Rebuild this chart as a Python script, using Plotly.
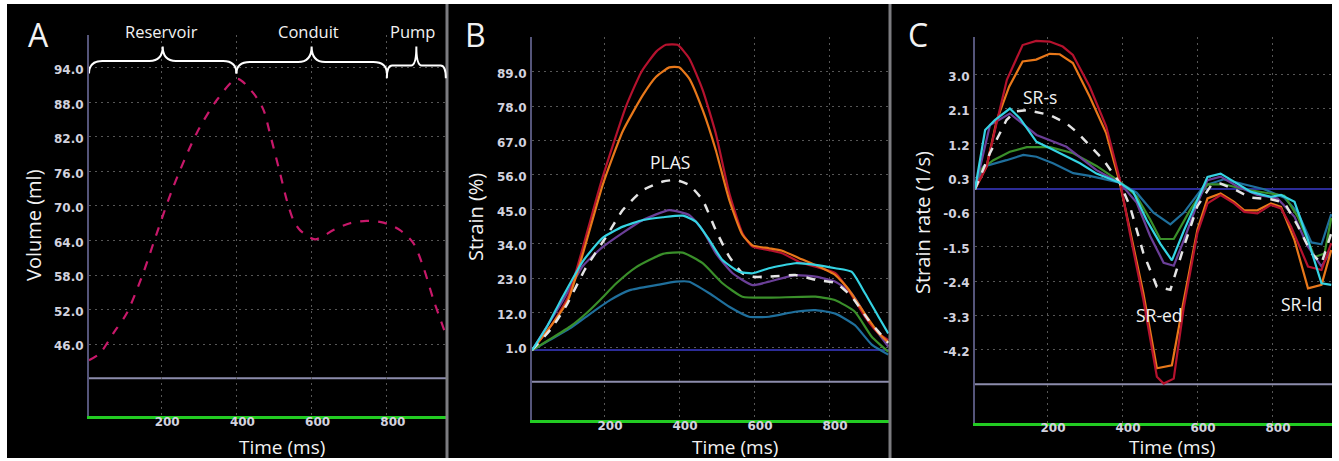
import plotly.graph_objects as go

W, H = 1339, 461

# ---------------- Panel A: LA volume ----------------
vol_time = [8, 37, 73, 108, 152, 188, 232, 294, 348, 402, 445, 472, 489, 516, 534, 551, 569,
            609, 658, 702, 746, 791, 835, 871, 897, 924, 959]
vol_ml = [43.2, 44.4, 47.9, 51.3, 58.3, 65.2, 73.3, 82.6, 88.4, 92.1, 89.6, 86.7, 82.6, 75.7,
          71.0, 67.6, 65.8, 64.2, 65.8, 67.0, 67.4, 67.1, 65.8, 63.5, 59.4, 53.7, 47.3]
vol_ticks = [46, 52, 58, 64, 70, 76, 82, 88, 94]
vol_tick_text = ["46.0", "52.0", "58.0", "64.0", "70.0", "76.0", "82.0", "88.0", "94.0"]
phase_names = ["Reservoir", "Conduit", "Pump"]
phase_start = [8, 400, 800]
phase_end = [400, 800, 957]
brace_tip = [93.0, 93.0, 92.2]
brace_body = [95.2, 95.0, 94.4]
brace_peak = [97.7, 97.7, 97.7]

# ---------------- Panel B: strain ----------------
b_red_t = [8, 60, 104, 144, 193, 259, 300, 340, 365, 396, 427, 463, 498, 534, 569, 596, 640,
           675, 719, 764, 817, 852, 896, 932, 958]
b_red = [0, 8, 17, 33, 54, 78, 89, 95.5, 97.6, 97.6, 93.3, 83.2, 69.3, 50.2, 37.4, 33.1, 32.0,
         31.0, 28.3, 26.7, 24.6, 19.2, 10.7, 5.4, 3.2]
b_orange_t = [8, 60, 104, 144, 197, 250, 304, 339, 374, 400, 427, 463, 498, 534, 569, 596, 640,
              675, 719, 764, 817, 852, 896, 932, 958]
b_orange = [0, 8, 16, 31, 53, 70, 81.6, 87.4, 90.4, 90.4, 86.9, 76.8, 64, 48, 36.9, 33.5, 32.6,
            31.8, 29.5, 27.2, 24.0, 19.5, 11.5, 5.5, 2.5]
b_plas_t = [8, 60, 101, 150, 206, 250, 304, 357, 392, 427, 463, 498, 534, 569, 596, 640, 710,
            764, 817, 860, 905, 958]
b_plas = [0, 7, 14.6, 26, 36.3, 44.8, 51.2, 53.9, 54.4, 52.8, 48, 38.4, 29.9, 24.6, 23.5, 23.5,
          24.0, 22.5, 21.5, 17.2, 9.7, 2.3]
b_purple_t = [8, 50, 91, 144, 197, 250, 304, 374, 427, 463, 498, 543, 596, 640, 710, 764, 817,
              860, 905, 958]
b_purple = [0, 8, 16, 27, 33, 37.5, 41.6, 44.8, 43.2, 38.4, 31, 24.6, 20.8, 21.9, 24, 23.5, 21.9,
            18.2, 9.7, 1.2]
b_cyan_t = [8, 50, 85, 144, 197, 250, 304, 357, 410, 445, 481, 516, 560, 596, 640, 710, 764, 817,
            860, 896, 932, 958]
b_cyan = [0, 8, 16, 28.5, 36, 39.5, 41.6, 42.5, 43, 41.1, 35.2, 28.8, 25.1, 24.6, 26.2, 27.8,
          27.3, 26.2, 25.1, 18.2, 10.7, 5.4]
b_green_t = [8, 56, 109, 150, 189, 233, 285, 357, 410, 463, 516, 569, 640, 764, 817, 869, 914, 958]
b_green = [0, 3.5, 7.5, 11.5, 16, 21.4, 26.5, 30.8, 31.2, 27.8, 21.4, 17.1, 16.8, 17.1, 16.0,
           12.3, 4.3, -0.5]
b_teal_t = [8, 56, 109, 150, 216, 269, 339, 392, 427, 481, 534, 587, 640, 710, 764, 817, 869,
            914, 958]
b_teal = [0, 3.3, 7, 10.5, 16, 19.2, 20.8, 21.9, 21.9, 18.2, 13.9, 10.7, 10.7, 12.3, 12.8, 11.7,
          8, 1.8, -1.4]
strain_ticks = [1, 12, 23, 34, 45, 56, 67, 78, 89]
strain_tick_text = ["1.0", "12.0", "23.0", "34.0", "45.0", "56.0", "67.0", "78.0", "89.0"]

# ---------------- Panel C: strain rate ----------------
c_red_t = [8, 39, 66, 93, 135, 171, 207, 242, 269, 314, 358, 394, 421, 457, 493, 511, 538, 565,
           601, 628, 663, 699, 726, 761, 797, 824, 851, 896, 932, 958]
c_red = [0, 0.6, 1.75, 2.86, 3.77, 3.88, 3.86, 3.73, 3.51, 2.68, 1.64, 0.26, -1.15, -2.89, -4.9,
         -5.08, -4.95, -3.07, -1.15, -0.37, -0.15, -0.37, -0.59, -0.63, -0.41, -0.5, -0.98,
         -2.02, -2.11, -1.41]
c_orange_t = [8, 39, 66, 99, 135, 171, 207, 234, 269, 314, 358, 394, 421, 457, 493, 533, 565,
              601, 628, 663, 699, 726, 761, 797, 824, 860, 896, 932, 958]
c_orange = [0, 0.6, 1.8, 2.68, 3.34, 3.39, 3.54, 3.53, 3.3, 2.42, 1.46, 0.17, -1.06, -2.72, -4.68,
            -4.6, -2.89, -1.06, -0.24, -0.11, -0.33, -0.55, -0.55, -0.37, -0.46, -1.33, -2.59,
            -2.5, -1.59]
c_srs_t = [8, 48, 92, 115, 146, 208, 252, 279, 350, 394, 421, 457, 493, 529, 565, 601, 637, 663,
           699, 744, 797, 833, 869, 905, 932, 958]
c_srs = [0, 0.95, 1.81, 2.03, 2.07, 1.94, 1.72, 1.5, 0.77, 0.17, -0.44, -1.67, -2.55, -2.63, -1.5,
         -0.44, 0.09, 0.15, 0, -0.22, -0.26, -0.35, -0.96, -1.67, -1.94, -1.15]
c_cyan_t = [8, 35, 61, 101, 128, 172, 208, 252, 288, 332, 394, 430, 466, 502, 533, 565, 601, 628,
            663, 699, 744, 797, 824, 860, 896, 932, 958]
c_cyan = [0, 1.55, 1.81, 2.11, 1.85, 1.24, 1.07, 0.85, 0.68, 0.41, 0.17, -0.07, -0.81, -1.42,
          -1.86, -1.08, -0.29, 0.32, 0.41, 0.19, -0.07, -0.2, -0.15, -0.33, -1.33, -2.46, -2.5]
c_purple_t = [8, 48, 101, 172, 252, 332, 394, 439, 475, 511, 538, 565, 601, 628, 663, 708, 761,
              815, 860, 896, 932, 958]
c_purple = [0, 1.68, 1.98, 1.42, 1.11, 0.5, 0.17, -0.35, -1.22, -1.92, -2.0, -1.33, -0.37, 0.24,
            0.33, 0.07, -0.15, -0.24, -0.72, -1.5, -2.02, -1.59]
c_green_t = [8, 21, 57, 101, 146, 208, 270, 332, 394, 439, 475, 502, 538, 583, 628, 672, 726,
             779, 833, 869, 914, 940, 958]
c_green = [0, 0.5, 0.76, 0.98, 1.1, 1.1, 0.94, 0.61, 0.2, -0.18, -0.79, -1.3, -1.3, -0.52, 0.13,
           0.13, 0, -0.09, -0.17, -0.72, -1.77, -1.68, -0.75]
c_teal_t = [8, 30, 92, 137, 172, 216, 270, 314, 394, 439, 484, 529, 565, 619, 672, 726, 779, 833,
            869, 905, 932, 958]
c_teal = [0, 0.59, 0.76, 0.9, 0.85, 0.68, 0.42, 0.35, 0.17, -0.09, -0.61, -0.92, -0.61, 0.09,
          0.26, 0.13, 0.0, -0.22, -0.61, -1.39, -1.44, -0.65]
rate_ticks = [-4.2, -3.3, -2.4, -1.5, -0.6, 0.3, 1.2, 2.1, 3.0]
rate_tick_text = ["-4.2", "-3.3", "-2.4", "-1.5", "-0.6", "0.3", "1.2", "2.1", "3.0"]

time_ticks = [200, 400, 600, 800]
time_tick_text = ["200", "400", "600", "800"]

# reference lines (lavender) per panel
lav_level = [40.05, -10.1, -5.1]

# ---------------- styling ----------------
COL = dict(red="#b5122e", orange="#e8781a", white="#e4e4e4", purple="#6b3f98",
           cyan="#35d3e3", green="#3a8f2a", teal="#1f6f9c", magenta="#c8186a")
TICKFONT = dict(family="DejaVu Sans", size=12, color="#d2d2de", weight="bold")
TXT = "Open Sans"
GRID = dict(showgrid=True, gridcolor="#565656", griddash="2px,4px", gridwidth=1)


def px(x):
    return x / W


def py(y):
    return 1 - y / H


fig = go.Figure()


def add_line(x, y, color, ax, dash="solid", width=2.2, shape="linear", smoothing=1.0):
    fig.add_trace(go.Scatter(x=x, y=y, mode="lines", xaxis="x" + ax, yaxis="y" + ax,
                             line=dict(color=color, width=width, dash=dash, shape=shape,
                                       smoothing=smoothing),
                             hoverinfo="skip", showlegend=False))


# Panel A
add_line(vol_time, vol_ml, COL["magenta"], "", dash="dash", width=2.2, shape="spline", smoothing=0.8)

# Panel B
for t, v, c in [(b_teal_t, b_teal, "teal"), (b_green_t, b_green, "green"),
                (b_purple_t, b_purple, "purple"), (b_red_t, b_red, "red"),
                (b_orange_t, b_orange, "orange")]:
    add_line(t, v, COL[c], "2", shape="spline", smoothing=0.5)
add_line(b_plas_t, b_plas, COL["white"], "2", dash="dash", width=2.5, shape="spline", smoothing=0.5)
add_line(b_cyan_t, b_cyan, COL["cyan"], "2", shape="spline", smoothing=0.5)

# Panel C
for t, v, c in [(c_teal_t, c_teal, "teal"), (c_green_t, c_green, "green"),
                (c_purple_t, c_purple, "purple"), (c_orange_t, c_orange, "orange"),
                (c_red_t, c_red, "red")]:
    add_line(t, v, COL[c], "3")
add_line(c_srs_t, c_srs, COL["white"], "3", dash="dash", width=2.5)
add_line(c_cyan_t, c_cyan, COL["cyan"], "3")


def xax(d0, d1, anchor, standoff):
    return dict(domain=[px(d0), px(d1)], range=[8, 960], anchor=anchor,
                tickvals=time_ticks, ticktext=time_tick_text, tickfont=TICKFONT,
                ticks="", ticklabelshift=6, ticklabelstandoff=standoff,
                showline=True, linecolor="#22cc22", linewidth=2.5,
                zeroline=False, fixedrange=True, **GRID)


def yax(top, bottom, rng, vals, text, anchor, zl):
    return dict(domain=[py(bottom), py(top)], range=rng, anchor=anchor,
                tickvals=vals, ticktext=text, tickfont=TICKFONT,
                ticks="", ticklabelshift=2, ticklabelstandoff=1,
                showline=True, linecolor="#55557a", linewidth=2,
                zeroline=zl, zerolinecolor="#2c2c98", zerolinewidth=2, fixedrange=True, **GRID)


shapes = [
    dict(type="rect", xref="paper", yref="paper", x0=px(7), x1=px(1332), y0=py(458), y1=py(4),
         fillcolor="black", line=dict(width=0), layer="below"),
]
for sx in [447, 890]:
    shapes.append(dict(type="line", xref="paper", yref="paper", x0=px(sx), x1=px(sx),
                       y0=py(458), y1=py(4), line=dict(color="#7c7c80", width=3), layer="above"))
for i, ax in enumerate(["y", "y2", "y3"]):
    xd = ["x", "x2", "x3"][i] + " domain"
    shapes.append(dict(type="line", xref=xd, yref=ax, x0=0, x1=1, y0=lav_level[i], y1=lav_level[i],
                       line=dict(color="#8c8cac", width=2), layer="below"))


def brace_path(x0, x1, yt, yb, yp):
    xm = (x0 + x1) / 2
    a = 0.09 * (x1 - x0)
    return (f"M{x0},{yt} Q{x0},{yb} {x0 + a},{yb} L{xm - a},{yb} Q{xm},{yb} {xm},{yp} "
            f"M{xm},{yp} Q{xm},{yb} {xm + a},{yb} L{x1 - a},{yb} Q{x1},{yb} {x1},{yt}")


for i in range(len(phase_names)):
    shapes.append(dict(type="path", xref="x", yref="y",
                       path=brace_path(phase_start[i], phase_end[i], brace_tip[i],
                                       brace_body[i], brace_peak[i]),
                       line=dict(color="white", width=2)))

annotations = []


def note(text, x, y, size, angle=0):
    annotations.append(dict(text=text, xref="paper", yref="paper", x=px(x), y=py(y),
                            xanchor="center", yanchor="middle", showarrow=False,
                            textangle=angle, borderpad=0,
                            font=dict(family=TXT, size=size, color="#f2f2f2")))


note("A", 38, 34, 32)
note("B", 475, 34, 32)
note("C", 918, 34, 32)
for name, x in zip(phase_names, [161, 308, 413]):
    note(name, x, 31, 16.5)
note("Time (ms)", 282, 447, 19)
note("Time (ms)", 735, 447, 19)
note("Time (ms)", 1172, 447, 19)
note("Volume (ml)", 33, 225, 20, -90)
note("Strain (%)", 475, 217, 20, -90)
note("Strain rate (1/s)", 922, 223, 20, -90)
note("PLAS", 670, 162, 17.5)
note("SR-s", 1040, 97, 17.5)
note("SR-ed", 1159, 315, 17.5)
note("SR-ld", 1301, 304, 17.5)

fig.update_layout(
    width=W, height=H, margin=dict(l=0, r=0, t=0, b=0),
    paper_bgcolor="white", plot_bgcolor="rgba(0,0,0,0)",
    xaxis=xax(89, 447, "y", -7),
    yaxis=yax(35, 416, [33.5, 99.7], vol_ticks, vol_tick_text, "x", False),
    xaxis2=xax(532, 889, "y2", -7),
    yaxis2=yax(37, 420, [-22.3, 100.1], strain_ticks, strain_tick_text, "x2", True),
    xaxis3=xax(975, 1332, "y3", -8),
    yaxis3=yax(37, 423, [-6.11, 3.98], rate_ticks, rate_tick_text, "x3", True),
    shapes=shapes, annotations=annotations, showlegend=False,
)

# The page keeps the browser's default 8px body margin unless it is removed; drop it so the
# 1339x461 figure fills the window exactly.
fig.write_html("out.html", config={"displayModeBar": False},
               post_script="document.body.style.margin='0px';")
